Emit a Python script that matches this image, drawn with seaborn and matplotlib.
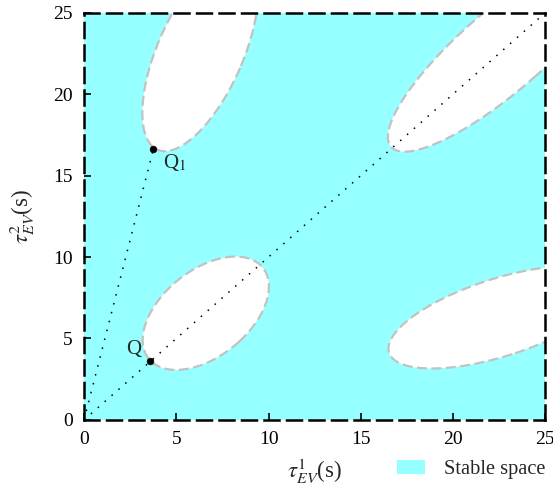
import matplotlib
matplotlib.use("Agg")
import matplotlib.pyplot as plt
from matplotlib.patches import Ellipse, Patch
import seaborn as sns

# unstable islands (ellipse centre, full width / height along own axes, tilt in deg)
island_cx = [6.6, 6.3, 22.71, 22.55]
island_cy = [6.55, 22.55, 22.71, 6.3]
island_w = [8.37, 12.8, 17.0, 12.8]
island_h = [5.02, 4.7, 4.76, 4.7]
island_angle = [46, 69.5, 45, 20.5]

# marked points and the rays from the origin
point_names = ["Q", "Q$_1$"]
point_x = [3.58, 3.76]
point_y = [3.62, 16.63]
ray_end_x = [25, 3.76]
ray_end_y = [25, 16.63]

ticks = [0, 5, 10, 15, 20, 25]

STABLE = "#96ffff"

sns.set_theme(style="ticks")
plt.rcParams["font.family"] = ["Liberation Serif", "DejaVu Serif"]
plt.rcParams["mathtext.fontset"] = "stix"

fig = plt.figure(figsize=(5.53, 4.9), dpi=100)
ax = fig.add_axes([0.152, 0.143, 0.834, 0.831])
ax.set_facecolor(STABLE)

for cx, cy, w, h, a in zip(island_cx, island_cy, island_w, island_h, island_angle):
    e = Ellipse((cx, cy), w, h, angle=a, facecolor="white", edgecolor="#c2c2c2",
                lw=1.6, linestyle=(0, (4.5, 2)), zorder=1)
    ax.add_patch(e)

for xe, ye in zip(ray_end_x, ray_end_y):
    sns.lineplot(x=[0, xe], y=[0, ye], ax=ax, color="black", lw=1.1,
                 linestyle=(0, (1, 5)), zorder=3)

sns.scatterplot(x=point_x, y=point_y, ax=ax, color="black", s=24, zorder=4,
                edgecolor="black")
ax.text(point_x[0] - 0.5, point_y[0] + 0.1, point_names[0], fontsize=15,
        ha="right", va="bottom")
ax.text(point_x[1] + 0.5, point_y[1] - 0.15, point_names[1], fontsize=15,
        ha="left", va="top")

ax.set_xlim(0, 25)
ax.set_ylim(0, 25)
ax.set_xticks(ticks)
ax.set_yticks(ticks)
ax.tick_params(direction="in", length=5, width=1.2, labelsize=14, colors="black",
               top=False, right=False, pad=8)
for sp in ax.spines.values():
    sp.set_visible(True)
    sp.set_color("black")
    sp.set_linewidth(1.8)
    sp.set_linestyle((0, (6, 3)))

ax.set_xlabel(r"$\tau_{EV}^{1}$(s)", fontsize=16.5, labelpad=6)
ax.set_ylabel(r"$\tau_{EV}^{2}$(s)", fontsize=16.5, labelpad=12)

fig.legend(handles=[Patch(facecolor=STABLE, edgecolor="none", label="Stable space")],
           loc="center right", bbox_to_anchor=(0.987, 0.041), frameon=False,
           fontsize=14.7, handlelength=1.37, handleheight=0.64, handletextpad=0.93,
           borderaxespad=0, borderpad=0)

fig.savefig("out.png", dpi=100)
